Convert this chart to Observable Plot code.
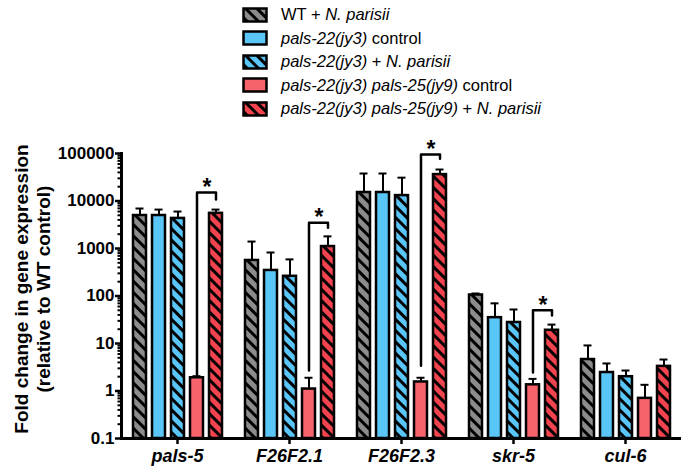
<!DOCTYPE html>
<html>
<head>
<meta charset="utf-8">
<script src="https://cdn.jsdelivr.net/npm/d3@7"></script>
<script src="https://cdn.jsdelivr.net/npm/@observablehq/plot@0.6"></script>
<style>
  html, body { margin: 0; padding: 0; background: #fff; }
  body { font-family: "Liberation Sans", Arial, sans-serif; color: #000; }
  #wrap { position: relative; width: 682px; height: 470px; overflow: hidden; }
  #legend { position: absolute; left: 242px; top: 3px; }
  .row { display: flex; align-items: center; height: 23.5px; font-size: 16.5px; white-space: nowrap; }
  .row svg { margin-right: 13px; flex: none; }
  #ytitle { position: absolute; left: -116px; top: 266px; width: 300px; height: 46px;
            text-align: center; font-weight: bold; font-size: 19px; line-height: 22px;
            transform: rotate(-90deg); white-space: nowrap; }
  #chart { position: absolute; left: 0; top: 118px; }
</style>
</head>
<body>
<svg width="0" height="0" style="position:absolute">
  <defs>
    <pattern id="hatch-gray" patternUnits="userSpaceOnUse" width="8" height="8" patternTransform="rotate(-45)">
      <rect width="8" height="8" fill="#8c8c8c"></rect>
      <rect width="3" height="8" fill="#000"></rect>
    </pattern>
    <pattern id="hatch-blue" patternUnits="userSpaceOnUse" width="8" height="8" patternTransform="rotate(-45)">
      <rect width="8" height="8" fill="#5ac5f7"></rect>
      <rect width="3" height="8" fill="#000"></rect>
    </pattern>
    <pattern id="hatch-red" patternUnits="userSpaceOnUse" width="8" height="8" patternTransform="rotate(-45)">
      <rect width="8" height="8" fill="#f2434f"></rect>
      <rect width="3" height="8" fill="#000"></rect>
    </pattern>
  </defs>
</svg>
<div id="wrap">
  <div id="legend"></div>
  <div id="ytitle">Fold change in gene expression<br>(relative to WT control)</div>
  <div id="chart"></div>
</div>
<script>
// ---- data ----
const genes = ["pals-5", "F26F2.1", "F26F2.3", "skr-5", "cul-6"];
const series = [
  "WT + N. parisii",
  "pals-22(jy3) control",
  "pals-22(jy3) + N. parisii",
  "pals-22(jy3) pals-25(jy9) control",
  "pals-22(jy3) pals-25(jy9) + N. parisii"
];
const legendHtml = [
  "WT + <i>N. parisii</i>",
  "<i>pals-22(jy3)</i> control",
  "<i>pals-22(jy3)</i> + <i>N. parisii</i>",
  "<i>pals-22(jy3) pals-25(jy9)</i> control",
  "<i>pals-22(jy3) pals-25(jy9)</i> + <i>N. parisii</i>"
];
const fills = ["url(#hatch-gray)", "#5ac5f7", "url(#hatch-blue)", "#f6636b", "url(#hatch-red)"];

// mean values per gene (in genes order)
const wtInf        = [4950, 560, 15100, 105, 4.6];
const palsCtrl     = [4950, 345, 15100, 35, 2.45];
const palsInf      = [4300, 260, 13000, 27.7, 2.0];
const dblCtrl      = [1.9, 1.1, 1.55, 1.35, 0.7];
const dblInf       = [5500, 1100, 36000, 19, 3.3];
// upper end of error bars
const wtInfErr     = [6950, 1400, 37900, 113, 9.1];
const palsCtrlErr  = [6600, 824, 37900, 70, 3.8];
const palsInfErr   = [6000, 590, 31000, 52, 2.7];
const dblCtrlErr   = [2.05, 1.9, 1.9, 1.8, 1.35];
const dblInfErr    = [6600, 1800, 46000, 25, 4.6];

// significance brackets
const sigGenes     = ["pals-5", "F26F2.1", "F26F2.3", "skr-5"];
const bracketTop   = [15100, 3500, 95000, 50];
const bracketLeft  = [2.15, 2.7, 3.4, 2.45];
const bracketRight = [10700, 2750, 78000, 39];

// y axis
const yDomain = [0.1, 100000];
const yTicks = [0.1, 1, 10, 100, 1000, 10000, 100000];
const yTickLabels = ["0.1", "1", "10", "100", "1000", "10000", "100000"];

// ---- build tables ----
const means = [wtInf, palsCtrl, palsInf, dblCtrl, dblInf];
const errs = [wtInfErr, palsCtrlErr, palsInfErr, dblCtrlErr, dblInfErr];
const rows = [];
genes.forEach((g, gi) => series.forEach((s, si) => rows.push({gene: g, series: s, value: means[si][gi], err: errs[si][gi]})));

const bracketPts = [];
sigGenes.forEach((g, i) => {
  bracketPts.push({gene: g, series: series[3], y: bracketLeft[i]});
  bracketPts.push({gene: g, series: series[3], y: bracketTop[i]});
  bracketPts.push({gene: g, series: series[4], y: bracketTop[i]});
  bracketPts.push({gene: g, series: series[4], y: bracketRight[i]});
});
const stars = sigGenes.map((g, i) => ({gene: g, series: series[3], y: bracketTop[i]}));

const minorTicks = [];
for (let e = -1; e < 5; e++) for (let k = 2; k <= 9; k++) minorTicks.push(k * Math.pow(10, e));

// ---- legend ----
const legend = document.getElementById("legend");
series.forEach((s, i) => {
  const row = document.createElement("div");
  row.className = "row";
  row.innerHTML = `<svg width="26" height="16"><rect x="1.5" y="1.5" width="23" height="13" fill="${fills[i]}" stroke="#000" stroke-width="2.5"></rect></svg><span>${legendHtml[i]}</span>`;
  legend.appendChild(row);
});

// ---- chart ----
const font = '"Liberation Sans", Arial, sans-serif';
const plot = Plot.plot({
  width: 682,
  height: 352,
  marginTop: 35,
  marginBottom: 32,
  marginLeft: 119,
  marginRight: 0,
  style: {fontFamily: font, color: "#000", background: "transparent", overflow: "visible"},
  fx: {domain: genes, paddingInner: 0, paddingOuter: 0, axis: null, label: null},
  x: {domain: series, paddingInner: 0.33, paddingOuter: 0.47, axis: null, label: null},
  y: {type: "log", domain: yDomain, axis: null, label: null},
  color: {domain: series, range: fills},
  marks: [
    Plot.barY(rows, {fx: "gene", x: "series", y1: () => yDomain[0], y2: "value", fill: "series", stroke: "#000", strokeWidth: 2.5}),
    Plot.ruleX(rows, {fx: "gene", x: "series", y1: "value", y2: "err", stroke: "#000", strokeWidth: 2}),
    Plot.tickY(rows, {fx: "gene", x: "series", y: "err", stroke: "#000", strokeWidth: 2, insetLeft: 2.5, insetRight: 2.5}),
    Plot.line(bracketPts, {fx: "gene", x: "series", y: "y", z: "gene", stroke: "#000", strokeWidth: 2.5}),
    Plot.text(stars, {fx: "gene", x: "series", y: "y", text: () => "*", dx: 10, dy: -5, fontSize: 23, fontWeight: "bold", fill: "#000"}),
    Plot.ruleY([yDomain[0]], {stroke: "#000", strokeWidth: 3}),
    Plot.frame({anchor: "left", facetAnchor: "left", stroke: "#000", strokeWidth: 3}),
    Plot.axisY({ticks: minorTicks, tickSize: 3.5, tickFormat: () => "", strokeWidth: 2, label: null}),
    Plot.axisY({ticks: yTicks, tickSize: 6, tickPadding: 1, strokeWidth: 2.5, label: null,
                tickFormat: d => yTickLabels[yTicks.indexOf(d)], fontSize: 17, fontWeight: "bold"}),
    Plot.axisFx({anchor: "bottom", label: null, tickSize: 6, tickPadding: 5, strokeWidth: 2.5,
                 fontSize: 18, fontWeight: "bold", fontStyle: "italic"})
  ]
});
document.getElementById("chart").appendChild(plot);
</script>
</body>
</html>
